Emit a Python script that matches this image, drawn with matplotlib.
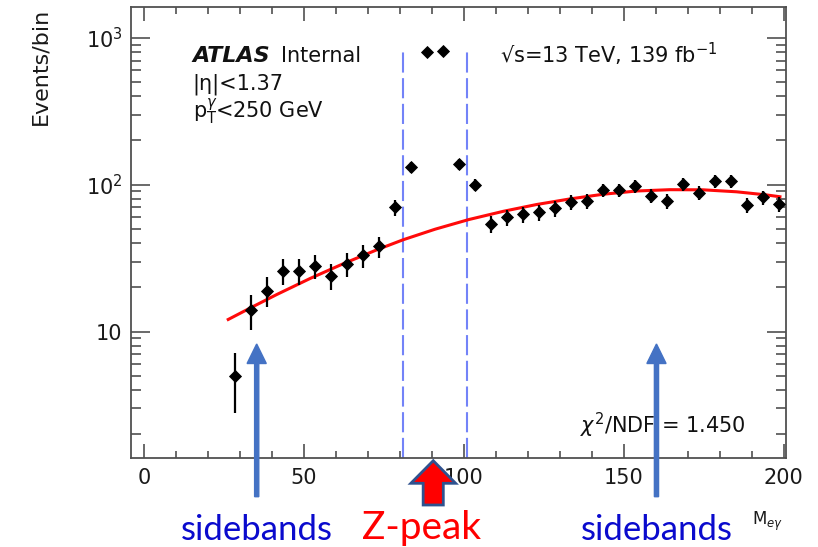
import matplotlib
matplotlib.use("Agg")
import matplotlib.pyplot as plt
from matplotlib.patches import FancyArrow
from matplotlib.transforms import blended_transform_factory
from matplotlib.ticker import FixedLocator, FixedFormatter, NullFormatter

plt.rcParams["font.family"] = ["DejaVu Sans"]
plt.rcParams["mathtext.fontset"] = "dejavusans"
plt.rcParams["lines.scale_dashes"] = False

# Binned e-gamma invariant mass spectrum (5 GeV bins)
mass_centers = [28.5, 33.5, 38.5, 43.5, 48.5, 53.5, 58.5, 63.5, 68.5, 73.5,
                78.5, 83.5, 88.5, 93.5, 98.5, 103.5, 108.5, 113.5, 118.5, 123.5,
                128.5, 133.5, 138.5, 143.5, 148.5, 153.5, 158.5, 163.5, 168.5, 173.5,
                178.5, 183.5, 188.5, 193.5, 198.5]
events = [5, 14, 19, 26, 26, 28, 24, 29, 33, 38,
          70, 132, 803, 813, 138, 100, 54, 60, 63, 65,
          69, 76, 77, 92, 92, 98, 84, 77, 101, 88,
          106, 106, 73, 82, 74]
event_errors = [2.2, 3.7, 4.4, 5.1, 5.1, 5.3, 4.9, 5.4, 5.7, 6.2,
                8.4, 11.5, 28.3, 28.5, 11.7, 10.0, 7.3, 7.7, 7.9, 8.1,
                8.3, 8.7, 8.8, 9.6, 9.6, 9.9, 9.2, 8.8, 10.0, 9.4,
                10.3, 10.3, 8.5, 9.1, 8.6]

# Sideband background fit curve
fit_mass = [26.3, 33.5, 41.5, 51.9, 62.3, 72.7, 81.0, 91.0, 101.5, 112.3,
            122.7, 133.1, 143.5, 154.0, 164.4, 174.8, 185.2, 194.6, 198.8]
fit_events = [12.1, 14.6, 17.9, 23.0, 29.0, 36.0, 42.2, 49.8, 57.9, 65.9,
              73.3, 80.0, 86.1, 90.6, 92.5, 92.3, 89.5, 85.2, 82.8]

# Z-peak window boundaries
window_edges = [81.0, 101.0]
window_top = 825

x_ticks = [0, 50, 100, 150, 200]
x_ticklabels = ["0", "50", "100", "150", "200"]
y_ticks = [10, 100, 1000]
y_ticklabels = ["10", "$10^{2}$", "$10^{3}$"]

W, H = 818, 547
fig = plt.figure(figsize=(W / 100, H / 100), dpi=100)
ax = fig.add_axes([131 / W, 1 - 458 / H, (786 - 131) / W, (458 - 7) / H])

ax.set_yscale("log")
ax.set_xlim(-4.1, 200.7)
ax.set_ylim(1.38, 1620)

# window lines
for xe in window_edges:
    ax.plot([xe, xe], [1.38, window_top], color="#7383F8", lw=1.5,
            dashes=(14.5, 4.0), zorder=2)

# fit
ax.plot(fit_mass, fit_events, color="#FF0A0A", lw=2.2, zorder=3)

# data
ax.errorbar(mass_centers, events, yerr=event_errors, fmt="D", color="black",
            ms=6.5, mew=0.6, elinewidth=1.6, capsize=0, zorder=4)

# axes styling
for sp in ax.spines.values():
    sp.set_color("#505050")
    sp.set_linewidth(1.3)

ax.xaxis.set_major_locator(FixedLocator(x_ticks))
ax.xaxis.set_major_formatter(FixedFormatter(x_ticklabels))
ax.xaxis.set_minor_locator(FixedLocator(list(range(0, 201, 10))))
ax.yaxis.set_major_locator(FixedLocator(y_ticks))
ax.yaxis.set_major_formatter(FixedFormatter(y_ticklabels))
ax.yaxis.set_minor_locator(FixedLocator([m * d for d in (1, 10, 100, 1000) for m in range(2, 10)]))
ax.yaxis.set_minor_formatter(NullFormatter())

ax.tick_params(axis="both", which="both", direction="in", top=True, right=True,
               color="#505050", width=1.2, labelcolor="#1a1a1a")
ax.tick_params(axis="x", which="major", length=10, labelsize=15, pad=7)
ax.tick_params(axis="x", which="minor", length=5)
ax.tick_params(axis="y", which="major", length=14, labelsize=15, pad=6)
ax.tick_params(axis="y", which="minor", length=7)

# axis titles
fig.text(30 / W, 1 - 8 / H, "Events/bin", rotation=90, ha="left", va="top",
         fontsize=16, color="#1a1a1a")
fig.text(751.7 / W, 1 - 525 / H, r"M$_{e\gamma}$", ha="left", va="baseline",
         fontsize=12, color="#1a1a1a")

# plot labels
txt = dict(va="baseline", ha="left", fontsize=15, color="#111111")
fig.text(192.7 / W, 1 - 62.3 / H, "ATLAS", fontweight="bold", fontstyle="italic",
         **{**txt, "fontsize": 16})
fig.text(281 / W, 1 - 62.3 / H, "Internal", **txt)
fig.text(192.7 / W, 1 - 89.3 / H, "|η|<1.37", **txt)
fig.text(192.7 / W, 1 - 118.3 / H, r"p$_{\mathrm{T}}^{\gamma}$<250 GeV", **txt)
fig.text(500 / W, 1 - 63.3 / H, "√s=13 TeV, 139 fb$^{-1}$", **txt)
fig.text(580 / W, 1 - 432.7 / H, r"$\chi^{2}$/NDF = 1.450", **txt)

# region arrows below the frame
bt = blended_transform_factory(ax.transData, fig.transFigure)
for xa in (35.2, 160.2):
    arr = FancyArrow(xa, 1 - 496.7 / H, 0, (496.7 - 344) / H, width=1.3,
                     head_width=6.0, head_length=19.5 / H,
                     length_includes_head=True, transform=bt,
                     color="#4472C4", clip_on=False, zorder=6)
    fig.add_artist(arr)
    fig.text(xa, 1 - 540.5 / H, "sidebands", transform=bt, ha="center",
             va="baseline", fontsize=25, color="#0A0ACD",
             family=["Lato", "DejaVu Sans"])

zarr = FancyArrow(90.4, 1 - 505 / H, 0, (505 - 460.7) / H, width=6.3,
                  head_width=14.0, head_length=22.6 / H,
                  length_includes_head=True, transform=bt,
                  facecolor="#FF0000", edgecolor="#2F528F", lw=2.0,
                  clip_on=False, zorder=6)
fig.add_artist(zarr)
fig.text(422 / W, 1 - 539 / H, "Z-peak", ha="center", va="baseline", fontsize=28,
         color="#FF0000", family=["Lato", "DejaVu Sans"])

fig.savefig("out.png", dpi=100)
